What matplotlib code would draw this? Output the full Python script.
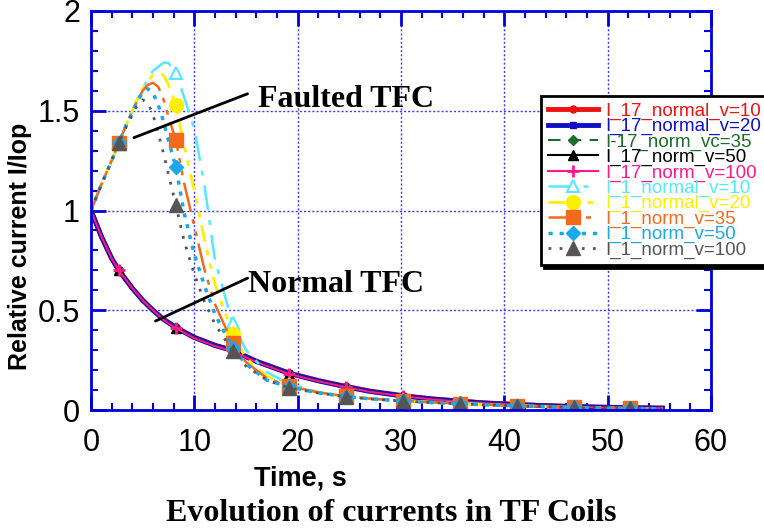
import numpy as np
import matplotlib.pyplot as plt
from matplotlib.ticker import MultipleLocator

plt.rcParams['font.family'] = ['Liberation Sans', 'DejaVu Sans']

# times at which markers are drawn
marker_times = [2.7, 8.2, 13.7, 19.2, 24.7, 30.2, 35.7, 41.2, 46.7, 52.2]

# normal TF coils (I_17)
t_normal = [0, 1, 2, 2.7, 4, 5, 6, 7, 8.2, 10, 12, 13.7, 16, 19.2, 22, 24.7,
            27, 30.2, 33, 35.7, 38, 41.2, 44, 46.7, 49, 52.2, 55.3]
i17_v10 = [1.0, 0.87, 0.76, 0.70, 0.61, 0.55, 0.50, 0.455, 0.415, 0.365, 0.325,
           0.30, 0.245, 0.185, 0.148, 0.118, 0.095, 0.072, 0.056, 0.045, 0.036,
           0.028, 0.022, 0.018, 0.015, 0.012, 0.01]
i17_v20 = [1.0, 0.87, 0.76, 0.70, 0.61, 0.55, 0.50, 0.455, 0.413, 0.363, 0.323,
           0.298, 0.243, 0.183, 0.146, 0.116, 0.093, 0.07, 0.055, 0.044, 0.035,
           0.027, 0.021, 0.017, 0.014, 0.011, 0.009]
i17_v35 = [1.0, 0.87, 0.76, 0.70, 0.61, 0.55, 0.50, 0.454, 0.412, 0.362, 0.322,
           0.297, 0.242, 0.182, 0.145, 0.115, 0.092, 0.07, 0.054, 0.043, 0.035,
           0.027, 0.021, 0.017, 0.014, 0.011, 0.009]
i17_v50 = [1.0, 0.87, 0.76, 0.70, 0.61, 0.55, 0.50, 0.453, 0.41, 0.36, 0.32,
           0.296, 0.24, 0.18, 0.144, 0.114, 0.091, 0.069, 0.053, 0.042, 0.034,
           0.026, 0.02, 0.016, 0.013, 0.011, 0.009]
i17_v100 = [1.0, 0.87, 0.76, 0.70, 0.61, 0.55, 0.50, 0.453, 0.41, 0.36, 0.32,
            0.295, 0.24, 0.18, 0.144, 0.114, 0.091, 0.069, 0.053, 0.042, 0.034,
            0.026, 0.02, 0.016, 0.013, 0.011, 0.009]

# faulted TF coil (I_1)
t_fault = [0, 1, 2, 2.7, 3.5, 4, 4.5, 5, 5.5, 6, 6.5, 7, 7.5, 8.2, 9, 10, 11, 12,
           13.7, 15, 17, 19.2, 22, 24.7, 27, 30.2, 33, 35.7, 38, 41.2, 44, 46.7,
           49, 52.2, 55.3]
i1_v10 = [1.0, 1.13, 1.25, 1.34, 1.44, 1.50, 1.56, 1.61, 1.66, 1.70, 1.72, 1.74,
          1.74, 1.69, 1.57, 1.41, 1.12, 0.75, 0.435, 0.30, 0.19, 0.13, 0.09,
          0.07, 0.058, 0.048, 0.04, 0.034, 0.029, 0.023, 0.018, 0.014, 0.011,
          0.009, 0.007]
i1_v20 = [1.0, 1.13, 1.25, 1.34, 1.44, 1.50, 1.56, 1.61, 1.65, 1.68, 1.69, 1.68,
          1.63, 1.53, 1.33, 1.10, 0.85, 0.63, 0.38, 0.26, 0.17, 0.12, 0.088,
          0.068, 0.057, 0.046, 0.038, 0.032, 0.027, 0.021, 0.017, 0.013, 0.011,
          0.008, 0.006]
i1_v35 = [1.0, 1.13, 1.25, 1.34, 1.44, 1.50, 1.55, 1.60, 1.63, 1.64, 1.62, 1.56,
          1.47, 1.355, 1.14, 0.92, 0.70, 0.53, 0.335, 0.24, 0.16, 0.12, 0.088,
          0.068, 0.057, 0.046, 0.038, 0.032, 0.027, 0.021, 0.017, 0.013, 0.011,
          0.008, 0.006]
i1_v50 = [1.0, 1.13, 1.25, 1.34, 1.44, 1.49, 1.55, 1.59, 1.61, 1.59, 1.53, 1.45,
          1.35, 1.22, 0.99, 0.78, 0.62, 0.48, 0.31, 0.23, 0.15, 0.115, 0.086,
          0.067, 0.056, 0.045, 0.037, 0.031, 0.026, 0.021, 0.017, 0.013, 0.011,
          0.008, 0.006]
i1_v100 = [1.0, 1.13, 1.25, 1.34, 1.43, 1.48, 1.53, 1.555, 1.54, 1.48, 1.39,
           1.29, 1.18, 1.03, 0.85, 0.68, 0.54, 0.43, 0.295, 0.22, 0.15, 0.11,
           0.085, 0.066, 0.055, 0.045, 0.037, 0.031, 0.026, 0.02, 0.016, 0.013,
           0.01, 0.008, 0.006]

labels = ["I_17_normal_v=10", "I_17_normal_v=20", "I-17_norm_vc=35",
          "I_17_norm_v=50", "I_17_norm_v=100", "I_1_normal_v=10",
          "I_1_normal_v=20", "I_1_norm_v=35", "I_1_norm_v=50", "I_1_norm_v=100"]


def mark_idx(ts):
    return [i for i, t in enumerate(ts) if t in marker_times]


fig = plt.figure(figsize=(7.64, 5.29), dpi=100)
ax = fig.add_axes([91 / 764, 1 - 410 / 529, 620 / 764, 399 / 529])

mn = mark_idx(t_normal)
mf = mark_idx(t_fault)

ax.plot(t_normal, i17_v10, color='#ee1111', lw=3.5, marker='o', ms=5, markevery=mn, label=labels[0])
ax.plot(t_normal, i17_v20, color='#1010c8', lw=3.5, marker='s', ms=5, markevery=mn, label=labels[1])
ax.plot(t_normal, i17_v35, color='#1b6b2a', lw=1.5, ls=(0, (6, 4)), marker='D', ms=5, markevery=mn, label=labels[2])
ax.plot(t_normal, i17_v50, color='black', lw=1.5, marker='^', ms=7, markevery=mn, label=labels[3])
ax.plot(t_normal, i17_v100, color='#ff1a8c', lw=1.5, marker='+', ms=9, mew=2, markevery=mn, label=labels[4])

ax.plot(t_fault, i1_v10, color='#55e8ff', lw=1.8, ls=(0, (10, 4, 2, 4)), marker='^', ms=9,
        mfc='white', mew=1.5, markevery=mf, label=labels[5])
ax.plot(t_fault, i1_v20, color='#ffee00', lw=2, ls=(0, (6, 3, 2, 3, 2, 3)), marker='o', ms=10,
        markevery=mf, label=labels[6])
ax.plot(t_fault, i1_v35, color='#f26b1d', lw=1.8, ls=(0, (12, 3, 2, 3, 2, 3)), marker='s', ms=10,
        markevery=mf, label=labels[7])
ax.plot(t_fault, i1_v50, color='#1aa8e8', lw=2.5, ls=(0, (1.2, 2)), marker='D', ms=7,
        markevery=mf, label=labels[8])
ax.plot(t_fault, i1_v100, color='#555555', lw=2, ls=(0, (1, 3)), marker='^', ms=10,
        markevery=mf, label=labels[9])

ax.set_xlim(0, 60)
ax.set_ylim(0, 2)
ax.set_xticks([0, 10, 20, 30, 40, 50, 60])
ax.set_yticks([0, 0.5, 1, 1.5, 2])
ax.set_yticklabels(['0', '0.5', '1', '1.5', '2'])
ax.xaxis.set_minor_locator(MultipleLocator(2))
ax.yaxis.set_minor_locator(MultipleLocator(0.1))
ax.tick_params(which='both', direction='in', top=True, right=True, color='#0000dd')
ax.tick_params(which='major', length=11, width=2, labelsize=22)
ax.tick_params(which='minor', length=5, width=1.5)
ax.tick_params(axis='y', pad=8)
ax.tick_params(axis='x', pad=13)
for s in ax.spines.values():
    s.set_color('#0000dd')
    s.set_linewidth(2)
ax.grid(True, which='major', color='#3a3aff', ls=(0, (1.5, 1.5)), lw=1)

ax.set_xlabel('Time, s', fontsize=19.5, fontweight='bold')
ax.xaxis.set_label_coords(0.337, -0.14)
ax.set_ylabel('Relative current I/Iop', fontsize=18, fontweight='bold')
ax.yaxis.set_label_coords(-0.095, 0.41)

serif = ['Liberation Serif', 'DejaVu Serif']
ax.annotate('', xy=(3.9, 1.36), xytext=(15.4, 1.59),
            arrowprops=dict(arrowstyle='-', color='black', lw=2))
ax.text(16.2, 1.555, 'Faulted TFC', family=serif, fontsize=23, fontweight='bold',
        va='center', ha='left')
ax.annotate('', xy=(6.0, 0.44), xytext=(15.4, 0.667),
            arrowprops=dict(arrowstyle='-', color='black', lw=2))
ax.text(15.2, 0.627, 'Normal TFC', family=serif, fontsize=23, fontweight='bold',
        va='center', ha='left')

fig.text(0.512, 0.015, 'Evolution of currents in TF Coils', family=serif, fontsize=23,
         fontweight='bold', ha='center', va='baseline')

leg = fig.legend(loc='upper left', bbox_to_anchor=(541 / 764, 1 - 96 / 529), borderaxespad=0,
                 fontsize=13.5, labelcolor='linecolor', handlelength=2.7, handletextpad=0.4,
                 labelspacing=-0.1, borderpad=0.35, fancybox=False, framealpha=1,
                 shadow={'color': 'black', 'alpha': 1})
leg.get_frame().set_edgecolor('black')
leg.get_frame().set_linewidth(2)

fig.savefig('out.png', dpi=100)
